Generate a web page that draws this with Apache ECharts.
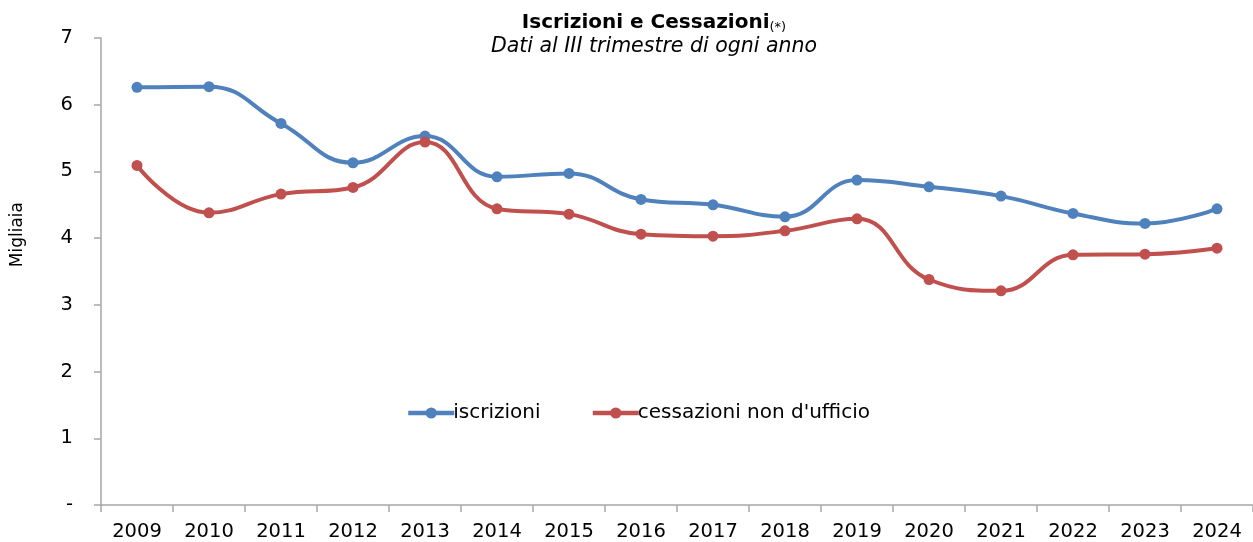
<!DOCTYPE html>
<html>
<head>
<meta charset="utf-8">
<script src="https://cdn.jsdelivr.net/npm/echarts@6/dist/echarts.min.js"></script>
<style>
  html, body { margin: 0; padding: 0; background: #fff; }
  #chart { width: 1253px; height: 542px; }
</style>
</head>
<body>
<div id="chart"></div>
<script>
// dati (migliaia)
const anni = ['2009', '2010', '2011', '2012', '2013', '2014', '2015', '2016',
  '2017', '2018', '2019', '2020', '2021', '2022', '2023', '2024'];
const iscrizioni = [6.26, 6.27, 5.72, 5.13, 5.53, 4.92, 4.97, 4.58,
  4.50, 4.32, 4.87, 4.77, 4.63, 4.37, 4.22, 4.44];
const cessazioni = [5.09, 4.38, 4.66, 4.76, 5.44, 4.44, 4.36, 4.06,
  4.03, 4.11, 4.29, 3.38, 3.21, 3.75, 3.76, 3.85];

const font = 'Verdana, "DejaVu Sans", sans-serif';
const axisGray = '#a6a6a6';

const chart = echarts.init(document.getElementById('chart'));

const lineSerie = (name, data, color) => ({
  name: name,
  type: 'line',
  data: data,
  smooth: 0.45,
  symbol: 'circle',
  symbolSize: 11,
  itemStyle: { color: color },
  lineStyle: { color: color, width: 4 }
});

chart.setOption({
  animation: false,
  textStyle: { fontFamily: font },
  title: {
    left: 649,
    textAlign: 'center',
    top: 7,
    text: 'Iscrizioni e Cessazioni{s|(*)}',
    textStyle: {
      fontFamily: font,
      fontSize: 20,
      fontWeight: 'bold',
      color: '#000',
      rich: {
        s: { fontFamily: font, fontSize: 13, fontWeight: 'normal', color: '#000', verticalAlign: 'bottom', padding: [9, 0, 0, 0] }
      }
    },
    subtext: 'Dati al III trimestre di ogni anno',
    subtextStyle: { fontFamily: font, fontSize: 20.5, fontStyle: 'italic', color: '#000' },
    itemGap: 4
  },
  legend: {
    top: 398,
    left: 401,
    itemWidth: 46,
    itemHeight: 14,
    itemGap: 50,
    lineStyle: { width: 4.5 },
    textStyle: { fontFamily: font, fontSize: 20, color: '#000', padding: [0, 0, 0, -6] },
    data: ['iscrizioni', "cessazioni non d'ufficio"]
  },
  graphic: [{
    type: 'text',
    left: 9,
    top: 202,
    rotation: Math.PI / 2,
    style: { text: 'Migliaia', fontFamily: font, fontSize: 17, fill: '#000' }
  }],
  grid: {
    left: 101,
    top: 38,
    width: 1158,
    height: 469,
    containLabel: false
  },
  xAxis: {
    type: 'category',
    data: anni,
    boundaryGap: true,
    axisLine: { lineStyle: { color: axisGray, width: 1.5 } },
    axisTick: { show: true, length: 7, lineStyle: { color: axisGray, width: 1.5 } },
    axisLabel: { color: '#000', fontSize: 19.5, fontFamily: font, margin: 17, interval: 0 }
  },
  yAxis: {
    type: 'value',
    min: 0,
    max: 7,
    interval: 1,
    axisLine: { show: true, lineStyle: { color: axisGray, width: 1.5 } },
    axisTick: { show: true, length: 7, lineStyle: { color: axisGray, width: 1.5 } },
    splitLine: { show: false },
    axisLabel: {
      color: '#000',
      fontSize: 19.5,
      fontFamily: font,
      margin: 28,
      formatter: v => (v === 0 ? '-' : String(v))
    }
  },
  series: [
    lineSerie('iscrizioni', iscrizioni, '#4f81bd'),
    lineSerie("cessazioni non d'ufficio", cessazioni, '#c0504d')
  ]
});
</script>
</body>
</html>
